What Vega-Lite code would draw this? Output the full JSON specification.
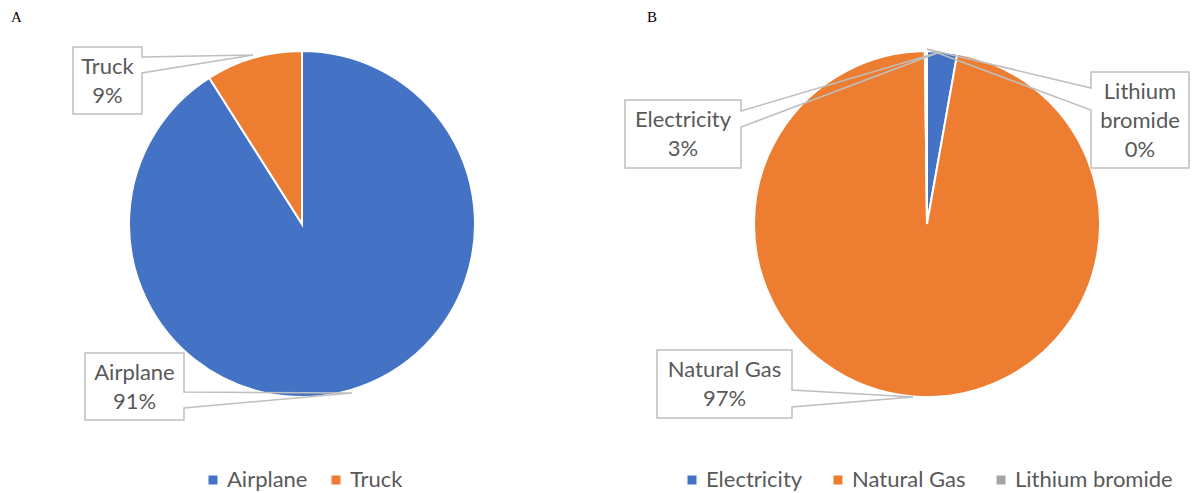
{
  "$schema": "https://vega.github.io/schema/vega-lite/v6.json",
  "padding": {"left": 0, "top": 10, "right": 0, "bottom": 0},
  "background": "white",
  "config": {
    "view": {"stroke": null},
    "font": "Lato",
    "title": {"font": "Liberation Serif", "fontSize": 15, "fontWeight": "normal", "color": "#000000", "anchor": "start", "frame": "group"},
    "legend": {"layout": {"bottom": {"anchor": "middle", "bounds": "flush"}}}
  },
  "spacing": 58,
  "bounds": "flush",
  "resolve": {"scale": {"color": "independent", "shape": "independent"}, "legend": {"color": "independent"}},
  "hconcat": [
    {
      "title": {"text": "A", "dx": 11},
      "width": 604,
      "height": 390,
      "data": {"values": [
        {"cat": "Airplane", "value": 91, "idx": 1, "label": "Airplane\n91%"},
        {"cat": "Truck", "value": 9, "idx": 2, "label": "Truck\n9%"}
      ]},
      "layer": [
        {
          "mark": {"type": "arc", "outerRadius": 173, "stroke": "white", "strokeWidth": 2},
          "encoding": {
            "theta": {"field": "value", "type": "quantitative", "stack": true},
            "order": {"field": "idx", "type": "quantitative"},
            "color": {
              "field": "cat", "type": "nominal",
              "scale": {"domain": ["Airplane", "Truck"], "range": ["#4472C4", "#ED7D31"]},
              "legend": {"orient": "bottom", "direction": "horizontal", "title": null, "symbolType": "square", "symbolSize": 81, "symbolStrokeWidth": 0, "labelFontSize": 22, "labelFont": "Lato", "labelColor": "#595959", "labelOffset": 3, "columnPadding": 17, "offset": 50}
            }
          }
        },
        {
          "mark": {"type": "point", "size": 4, "stroke": "#BFBFBF", "strokeWidth": 1.5, "filled": false, "opacity": 1},
          "encoding": {
            "shape": {
              "field": "idx", "type": "ordinal",
              "scale": {"domain": [1, 2], "range": [
                "M-217,129H-118V168L50,169L-118,184V196H-217Z",
                "M-229,-177H-160V-167L-49,-169L-160,-151V-110H-229Z"
              ]},
              "legend": null
            }
          }
        },
        {
          "transform": [{"filter": "datum.cat === 'Airplane'"}],
          "mark": {"type": "text", "dx": -167.5, "dy": 156, "align": "center", "baseline": "alphabetic", "fontSize": 22, "font": "Lato", "fill": "#595959", "lineBreak": "\n", "lineHeight": 29},
          "encoding": {"text": {"field": "label", "type": "nominal"}}
        },
        {
          "transform": [{"filter": "datum.cat === 'Truck'"}],
          "mark": {"type": "text", "dx": -194.5, "dy": -150.5, "align": "center", "baseline": "alphabetic", "fontSize": 22, "font": "Lato", "fill": "#595959", "lineBreak": "\n", "lineHeight": 29},
          "encoding": {"text": {"field": "label", "type": "nominal"}}
        }
      ]
    },
    {
      "title": {"text": "B", "dx": -15},
      "width": 530,
      "height": 390,
      "data": {"values": [
        {"cat": "Electricity", "value": 2.8, "idx": 1, "label": "Electricity\n3%"},
        {"cat": "Natural Gas", "value": 97.0, "idx": 2, "label": "Natural Gas\n97%"},
        {"cat": "Lithium bromide", "value": 0.2, "idx": 3, "label": "Lithium\nbromide\n0%"}
      ]},
      "layer": [
        {
          "mark": {"type": "arc", "outerRadius": 173, "stroke": "white", "strokeWidth": 2},
          "encoding": {
            "theta": {"field": "value", "type": "quantitative", "stack": true},
            "order": {"field": "idx", "type": "quantitative"},
            "color": {
              "field": "cat", "type": "nominal",
              "scale": {"domain": ["Electricity", "Natural Gas", "Lithium bromide"], "range": ["#4472C4", "#ED7D31", "#A5A5A5"]},
              "legend": {"orient": "bottom", "direction": "horizontal", "title": null, "symbolType": "square", "symbolSize": 81, "symbolStrokeWidth": 0, "labelFontSize": 22, "labelFont": "Lato", "labelColor": "#595959", "labelOffset": 3, "columnPadding": 24, "offset": 50}
            }
          }
        },
        {
          "mark": {"type": "point", "size": 4, "stroke": "#BFBFBF", "strokeWidth": 1.5, "filled": false, "opacity": 1},
          "encoding": {
            "shape": {
              "field": "idx", "type": "ordinal",
              "scale": {"domain": [1, 2, 3], "range": [
                "M-302,-124H-186V-113L13,-172L-186,-97V-56H-302Z",
                "M-270,126H-135V166L-14,173L-135,183V194H-270Z",
                "M164,-152H262V-56H164V-114L0,-175L164,-136Z"
              ]},
              "legend": null
            }
          }
        },
        {
          "transform": [{"filter": "datum.cat === 'Electricity'"}],
          "mark": {"type": "text", "dx": -244, "dy": -97, "align": "center", "baseline": "alphabetic", "fontSize": 22, "font": "Lato", "fill": "#595959", "lineBreak": "\n", "lineHeight": 29},
          "encoding": {"text": {"field": "label", "type": "nominal"}}
        },
        {
          "transform": [{"filter": "datum.cat === 'Natural Gas'"}],
          "mark": {"type": "text", "dx": -202.5, "dy": 153, "align": "center", "baseline": "alphabetic", "fontSize": 22, "font": "Lato", "fill": "#595959", "lineBreak": "\n", "lineHeight": 29},
          "encoding": {"text": {"field": "label", "type": "nominal"}}
        },
        {
          "transform": [{"filter": "datum.cat === 'Lithium bromide'"}],
          "mark": {"type": "text", "dx": 213, "dy": -125.5, "align": "center", "baseline": "alphabetic", "fontSize": 22, "font": "Lato", "fill": "#595959", "lineBreak": "\n", "lineHeight": 29},
          "encoding": {"text": {"field": "label", "type": "nominal"}}
        }
      ]
    }
  ]
}
